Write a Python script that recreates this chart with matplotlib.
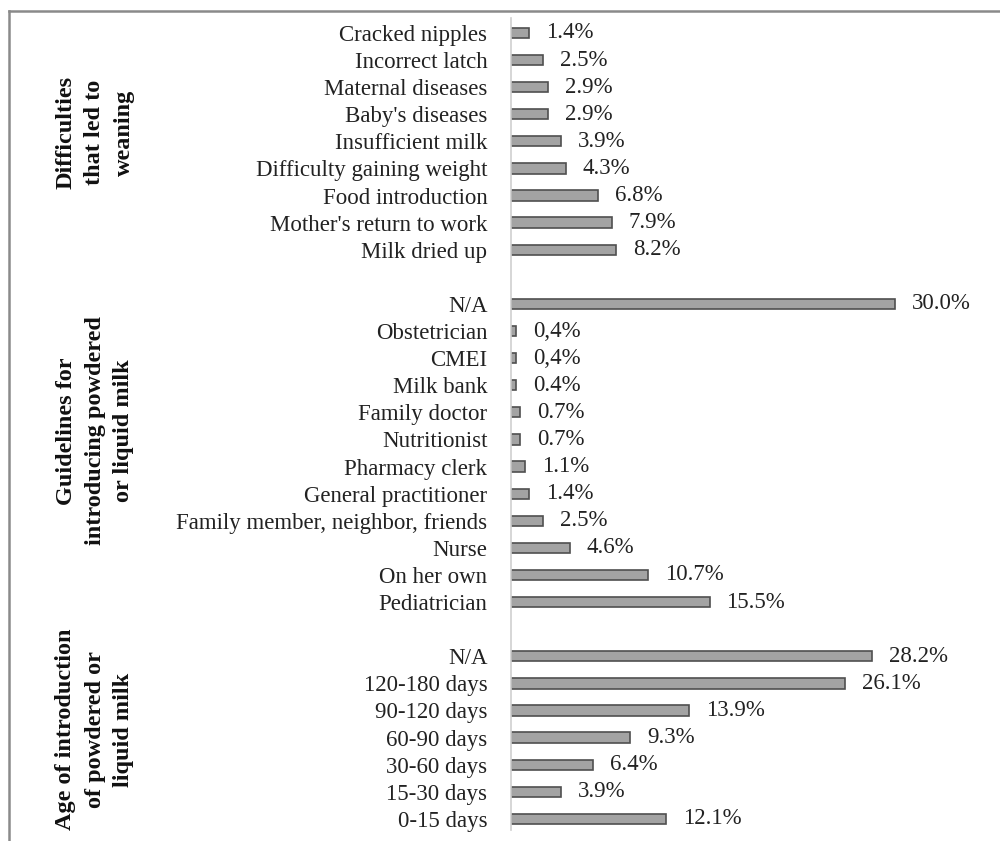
import matplotlib.pyplot as plt
from matplotlib.lines import Line2D

# Datos por grupo (de arriba hacia abajo)
weaning_labels = ["Cracked nipples", "Incorrect latch", "Maternal diseases", "Baby's diseases",
                  "Insufficient milk", "Difficulty gaining weight", "Food introduction",
                  "Mother's return to work", "Milk dried up"]
weaning_values = [1.4, 2.5, 2.9, 2.9, 3.9, 4.3, 6.8, 7.9, 8.2]
weaning_text = ["1.4%", "2.5%", "2.9%", "2.9%", "3.9%", "4.3%", "6.8%", "7.9%", "8.2%"]

guide_labels = ["N/A", "Obstetrician", "CMEI", "Milk bank", "Family doctor", "Nutritionist",
                "Pharmacy clerk", "General practitioner", "Family member, neighbor, friends",
                "Nurse", "On her own", "Pediatrician"]
guide_values = [30.0, 0.4, 0.4, 0.4, 0.7, 0.7, 1.1, 1.4, 2.5, 4.6, 10.7, 15.5]
guide_text = ["30.0%", "0,4%", "0,4%", "0.4%", "0.7%", "0.7%", "1.1%", "1.4%", "2.5%",
              "4.6%", "10.7%", "15.5%"]

age_labels = ["N/A", "120-180 days", "90-120 days", "60-90 days", "30-60 days",
              "15-30 days", "0-15 days"]
age_values = [28.2, 26.1, 13.9, 9.3, 6.4, 3.9, 12.1]
age_text = ["28.2%", "26.1%", "13.9%", "9.3%", "6.4%", "3.9%", "12.1%"]

group_titles = ["Difficulties\nthat led to\nweaning",
                "Guidelines for\nintroducing powdered\nor liquid milk",
                "Age of introduction\nof powdered or\nliquid milk"]

plt.rcParams['font.family'] = ['Liberation Serif', 'DejaVu Serif']

fig = plt.figure(figsize=(10, 8.41), dpi=100)
ax = fig.add_axes([0.511, 1 - 830 / 841, 0.479, 812 / 841])

# Posiciones: un hueco entre grupos
groups = [(weaning_labels, weaning_values, weaning_text),
          (guide_labels, guide_values, guide_text),
          (age_labels, age_values, age_text)]
positions, labels, values, texts, centers = [], [], [], [], []
pos = 0
for lab, val, txt in groups:
    start = pos
    for l, v, t in zip(lab, val, txt):
        positions.append(pos)
        labels.append(l)
        values.append(v)
        texts.append(t)
        pos += 1
    centers.append((start + pos - 1) / 2)
    pos += 1

ax.barh(positions, values, height=0.38, color='#a3a3a3', edgecolor='#4f4f4f', linewidth=1.2)
for p, v, t in zip(positions, values, texts):
    ax.annotate(t, (v, p), xytext=(12, 0), textcoords='offset points',
                va='center', ha='left', fontsize=16.5, color='#222222')

ax.set_yticks(positions)
ax.set_yticklabels(labels, fontsize=16.5, color='#222222')
ax.tick_params(axis='y', length=0, pad=17)
ax.set_xticks([])
ax.set_xlim(0, 37.4)
ax.set_ylim(29.41, -0.55)
for s in ['top', 'right', 'bottom']:
    ax.spines[s].set_visible(False)
ax.spines['left'].set_color('#cfcfcf')
ax.spines['left'].set_linewidth(1.2)

# Titulos de grupo rotados
title_shift = [-9, -22, -8]
for t, c, dy in zip(group_titles, centers, title_shift):
    y_pix = 33 + 27.1 * c + dy
    fig.text(0.095, 1 - y_pix / 841, t, rotation=90, ha='center', va='center',
             multialignment='center', fontsize=17.5, fontweight='bold', color='#111111',
             linespacing=1.5)

# Marco
fig.add_artist(Line2D([0.009, 1.0], [1 - 11 / 841, 1 - 11 / 841], color='#8a8a8a', linewidth=1.8,
                      transform=fig.transFigure))
fig.add_artist(Line2D([0.009, 0.009], [1 - 11 / 841, 0.0], color='#8a8a8a', linewidth=1.8,
                      transform=fig.transFigure))

fig.savefig('out.png', dpi=100)
